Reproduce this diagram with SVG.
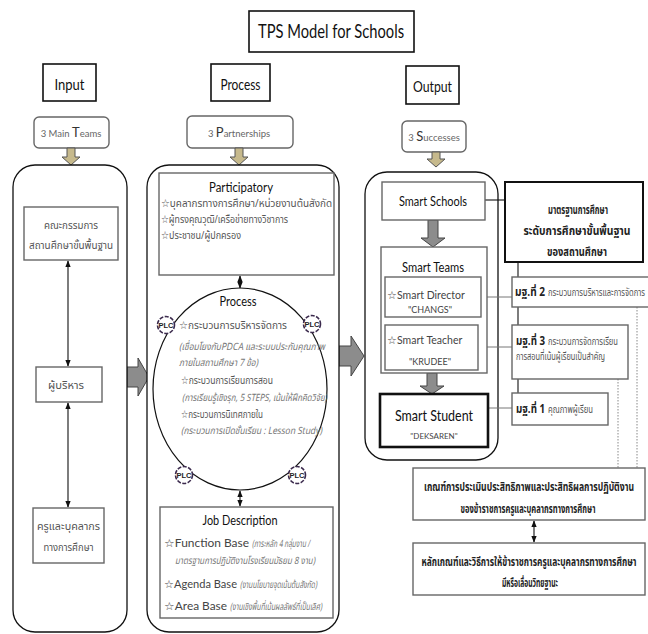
<svg xmlns="http://www.w3.org/2000/svg" width="648" height="634" viewBox="0 0 648 634">
<style>
.hd{font-family:Lato,"Liberation Sans",sans-serif;fill:#111;text-anchor:middle}
.th{font-family:"Noto Sans Thai","Noto Sans","DejaVu Sans",sans-serif;fill:#555;font-size:11px}
.thb{font-family:"Noto Sans Thai","Noto Sans","DejaVu Sans",sans-serif;fill:#222;font-size:11.5px;font-weight:bold}
.it{font-style:italic;fill:#777;font-size:10px}
.lat{font-family:Lato,"Liberation Sans",sans-serif;fill:#444}
.box{fill:#fff;stroke:#111;stroke-width:1.6}
.gbox{fill:#fff;stroke:#666;stroke-width:1.4}
.big{fill:#fff;stroke:#111;stroke-width:1.3}
.ln{stroke:#111;stroke-width:1.1;fill:none}
.gl{stroke:#777;stroke-width:1;fill:none}
.dot{stroke:#888;stroke-width:1;stroke-dasharray:1.5 1.5;fill:none}
.khaki{fill:#c6b98c;stroke:#555;stroke-width:1}
.garrow{fill:#8c8c8c;stroke:#444;stroke-width:1}
.plc{fill:#fff;stroke:#3b2a4d;stroke-width:1.6;stroke-dasharray:4 1.5}
.plct{font-family:"Liberation Sans Narrow","Liberation Sans",sans-serif;font-size:7.5px;font-weight:bold;fill:#222;text-anchor:middle}
</style>
<defs>
<marker id="ah" viewBox="0 0 10 10" refX="9" refY="5" markerWidth="6" markerHeight="6" orient="auto-start-reverse">
<path d="M0,1 L10,5 L0,9 z" fill="#111"/>
</marker>
</defs>

<g id="title">
<rect class="box" x="249" y="11" width="165" height="41"/>
<text class="hd" x="331" y="38" font-size="19" textLength="146" lengthAdjust="spacingAndGlyphs">TPS Model for Schools</text>
</g>

<g id="input-head">
<rect class="box" x="43" y="64" width="53" height="37"/>
<text class="hd" x="69.5" y="90" font-size="15" textLength="30" lengthAdjust="spacingAndGlyphs">Input</text>
<rect class="gbox" x="34" y="117" width="75" height="31" rx="5"/>
<text class="hd" x="71" y="137" font-size="9.5"><tspan fill="#666">3 Main </tspan><tspan font-size="13" fill="#333">T</tspan><tspan fill="#666">eams</tspan></text>
</g>
<g id="process-head">
<rect class="box" x="211" y="64" width="59" height="37"/>
<text class="hd" x="240.5" y="90" font-size="15" textLength="40" lengthAdjust="spacingAndGlyphs">Process</text>
<rect class="gbox" x="187" y="116" width="106" height="32" rx="5"/>
<text class="hd" x="239" y="137" font-size="9.5"><tspan fill="#666">3 </tspan><tspan font-size="13" fill="#333">P</tspan><tspan fill="#666">artnerships</tspan></text>
</g>
<g id="output-head">
<rect class="box" x="406" y="66" width="53" height="38"/>
<text class="hd" x="432.5" y="92" font-size="15" textLength="39" lengthAdjust="spacingAndGlyphs">Output</text>
<rect class="gbox" x="402" y="121" width="64" height="31" rx="5"/>
<text class="hd" x="434" y="141" font-size="9.5"><tspan fill="#666">3 </tspan><tspan font-size="13" fill="#333">S</tspan><tspan fill="#666">uccesses</tspan></text>
</g>

<g id="connectors">
<path class="khaki" d="M67,148 H75 V157 H80 L71,165 L62,157 H67 Z"/>
<path class="khaki" d="M235,148 H243 V157 H248 L239,165 L230,157 H235 Z"/>
<path class="khaki" d="M432,152 H440 V159 H445 L436,167 L427,159 H432 Z"/>
<path class="garrow" d="M127,367 H138 V358 L149,377 L138,396 V387 H127 Z"/>
<path class="garrow" d="M339,346 H351 V336 L364,356 L351,376 V366 H339 Z"/>
</g>

<g id="input-group">
<rect class="big" x="13" y="165" width="114" height="467" rx="22"/>
</g>
<g id="process-group">
<rect class="big" x="147" y="165" width="192" height="467" rx="22"/>
</g>
<g id="output-group">
<rect class="big" x="365" y="172" width="133" height="288" rx="22"/>
</g>

<g id="input-links">
<line class="ln" x1="68" y1="261" x2="68" y2="366" marker-start="url(#ah)" marker-end="url(#ah)"/>
<line class="ln" x1="68" y1="403" x2="68" y2="507" marker-start="url(#ah)" marker-end="url(#ah)"/>
</g>
<g id="n-committee">
<rect class="gbox" x="24" y="207" width="94" height="53"/>
<text class="th" x="71" y="229" text-anchor="middle" textLength="54" lengthAdjust="spacingAndGlyphs">คณะกรรมการ</text>
<text class="th" x="71" y="249" text-anchor="middle" textLength="84" lengthAdjust="spacingAndGlyphs">สถานศึกษาขั้นพื้นฐาน</text>
</g>
<g id="n-admin">
<rect class="gbox" x="36" y="367" width="66" height="35"/>
<text class="th" x="66" y="389" text-anchor="middle" textLength="36" lengthAdjust="spacingAndGlyphs">ผู้บริหาร</text>
</g>
<g id="n-teachers">
<rect class="gbox" x="33" y="508" width="71" height="55"/>
<text class="th" x="68.5" y="530" text-anchor="middle" textLength="63" lengthAdjust="spacingAndGlyphs">ครูและบุคลากร</text>
<text class="th" x="68.5" y="551" text-anchor="middle" textLength="50" lengthAdjust="spacingAndGlyphs">ทางการศึกษา</text>
</g>

<g id="process-links">
<line class="ln" x1="240" y1="276" x2="240" y2="288" marker-start="url(#ah)" marker-end="url(#ah)"/>
<line class="ln" x1="240" y1="491" x2="240" y2="506" marker-start="url(#ah)" marker-end="url(#ah)"/>
</g>
<g id="n-participatory">
<rect class="gbox" x="159" y="173" width="175" height="102"/>
<text class="hd" x="241" y="192" font-size="14" fill="#222" textLength="64" lengthAdjust="spacingAndGlyphs">Participatory</text>
<text class="th" x="161" y="207" textLength="171" lengthAdjust="spacingAndGlyphs">☆บุคลากรทางการศึกษา/หน่วยงานต้นสังกัด</text>
<text class="th" x="161" y="223" textLength="127" lengthAdjust="spacingAndGlyphs">☆ผู้ทรงคุณวุฒิ/เครือข่ายทางวิชาการ</text>
<text class="th" x="161" y="239" textLength="80" lengthAdjust="spacingAndGlyphs">☆ประชาชน/ผู้ปกครอง</text>
</g>
<g id="n-process-circle">
<ellipse cx="240" cy="389" rx="87" ry="101" fill="none" stroke="#111" stroke-width="1.2"/>
<text class="hd" x="238" y="306" font-size="14" fill="#222" textLength="37" lengthAdjust="spacingAndGlyphs">Process</text>
<text class="th" x="179" y="329" font-size="11.5" fill="#444" textLength="108" lengthAdjust="spacingAndGlyphs">☆กระบวนการบริหารจัดการ</text>
<text class="th it" x="179" y="350" textLength="146" lengthAdjust="spacingAndGlyphs">(เชื่อมโยงกับPDCA และระบบประกันคุณภาพ</text>
<text class="th it" x="179" y="366" textLength="79" lengthAdjust="spacingAndGlyphs">ภายในสถานศึกษา 7 ข้อ)</text>
<text class="th" x="181" y="384" font-size="11.5" fill="#444" textLength="92" lengthAdjust="spacingAndGlyphs">☆กระบวนการเรียนการสอน</text>
<text class="th it" x="182" y="401" textLength="145" lengthAdjust="spacingAndGlyphs">(การเรียนรู้เชิงรุก, 5 STEPS, เน้นให้ฝึกคิดวิจัย)</text>
<text class="th" x="181" y="418" font-size="11.5" fill="#444" textLength="82" lengthAdjust="spacingAndGlyphs">☆กระบวนการนิเทศภายใน</text>
<text class="th it" x="181" y="434" textLength="141" lengthAdjust="spacingAndGlyphs">(กระบวนการเปิดชั้นเรียน : Lesson Study)</text>
<circle class="plc" cx="166" cy="325" r="8.5"/><text class="plct" x="166" y="328">PLC</text>
<circle class="plc" cx="312" cy="324" r="8.5"/><text class="plct" x="312" y="327">PLC</text>
<circle class="plc" cx="184" cy="475" r="8.5"/><text class="plct" x="184" y="478">PLC</text>
<circle class="plc" cx="297" cy="475" r="8.5"/><text class="plct" x="297" y="478">PLC</text>
</g>
<g id="n-job">
<rect class="gbox" x="160" y="507" width="173" height="111"/>
<text class="hd" x="240" y="525" font-size="14" fill="#222" textLength="75" lengthAdjust="spacingAndGlyphs">Job Description</text>
<text class="lat" x="164" y="547" font-size="11" textLength="85" lengthAdjust="spacingAndGlyphs">☆Function Base</text>
<text class="th it" x="252" y="547" textLength="58" lengthAdjust="spacingAndGlyphs">(ภาระหลัก 4 กลุ่มงาน /</text>
<text class="th it" x="175" y="564" textLength="140" lengthAdjust="spacingAndGlyphs">มาตรฐานการปฏิบัติงานโรงเรียนมัธยม 8 งาน)</text>
<text class="lat" x="164" y="588" font-size="11" textLength="73" lengthAdjust="spacingAndGlyphs">☆Agenda Base</text>
<text class="th it" x="240" y="588" textLength="77" lengthAdjust="spacingAndGlyphs">(งานนโยบายจุดเน้นต้นสังกัด)</text>
<text class="lat" x="164" y="610" font-size="11" textLength="63" lengthAdjust="spacingAndGlyphs">☆Area Base</text>
<text class="th it" x="230" y="610" textLength="92" lengthAdjust="spacingAndGlyphs">(งานเชิงพื้นที่เน้นผลลัพธ์ที่เป็นเลิศ)</text>
</g>

<g id="output-links">
<path class="garrow" d="M428,220 H438 V238 H445 L433,247 L421,238 H428 Z"/>
<path class="garrow" d="M427,373 H437 V386 H444 L432,394 L420,386 H427 Z"/>
<line class="ln" x1="485" y1="200" x2="505" y2="200"/>
<line class="ln" x1="518" y1="262" x2="518" y2="393"/>
<line class="gl" x1="481" y1="297" x2="512" y2="297"/>
<line class="gl" x1="478" y1="347" x2="512" y2="347"/>
<line class="gl" x1="488" y1="408" x2="512" y2="408"/>
<line class="dot" x1="618" y1="379" x2="618" y2="468"/>
<line class="dot" x1="637" y1="307" x2="637" y2="468"/>
<line class="ln" x1="534" y1="521" x2="534" y2="542" marker-start="url(#ah)" marker-end="url(#ah)"/>
</g>
<g id="n-smart-schools">
<rect class="gbox" x="382" y="182" width="103" height="38"/>
<text class="hd" x="433" y="206" font-size="14" fill="#222" textLength="68" lengthAdjust="spacingAndGlyphs">Smart Schools</text>
</g>
<g id="n-smart-teams">
<rect class="gbox" x="381" y="247" width="106" height="126"/>
<text class="hd" x="433" y="272" font-size="14" fill="#222" textLength="62" lengthAdjust="spacingAndGlyphs">Smart Teams</text>
</g>
<g id="n-smart-director">
<rect class="gbox" x="385" y="277" width="96" height="40"/>
<text class="lat" x="387" y="299" font-size="10.5">☆Smart Director</text>
<text class="lat" x="430" y="313" font-size="9" text-anchor="middle">"CHANGS"</text>
</g>
<g id="n-smart-teacher">
<rect class="gbox" x="385" y="325" width="93" height="45"/>
<text class="lat" x="387" y="344" font-size="10.5">☆Smart Teacher</text>
<text class="lat" x="430" y="365" font-size="9" text-anchor="middle">"KRUDEE"</text>
</g>
<g id="n-smart-student">
<rect x="380" y="394" width="108" height="53" fill="#fff" stroke="#111" stroke-width="2.6"/>
<text class="hd" x="434" y="421" font-size="15" fill="#222" textLength="78" lengthAdjust="spacingAndGlyphs">Smart Student</text>
<text class="lat" x="434" y="439" font-size="8" text-anchor="middle">"DEKSAREN"</text>
</g>
<g id="n-standards">
<rect x="505" y="182" width="138" height="80" fill="#fff" stroke="#111" stroke-width="2"/>
<text class="thb" x="578" y="214" text-anchor="middle" textLength="60" lengthAdjust="spacingAndGlyphs">มาตรฐานการศึกษา</text>
<text class="thb" x="577" y="235" text-anchor="middle" textLength="107" lengthAdjust="spacingAndGlyphs">ระดับการศึกษาขั้นพื้นฐาน</text>
<text class="thb" x="577" y="256" text-anchor="middle" textLength="60" lengthAdjust="spacingAndGlyphs">ของสถานศึกษา</text>
</g>
<g id="n-std2">
<rect class="gbox" x="512" y="277" width="140" height="30"/>
<text class="thb" x="515" y="296" font-size="11" textLength="30" lengthAdjust="spacingAndGlyphs">มฐ.ที่ 2</text>
<text class="th" x="548" y="296" font-size="9.5" textLength="97" lengthAdjust="spacingAndGlyphs">กระบวนการบริหารและการจัดการ</text>
</g>
<g id="n-std3">
<rect class="gbox" x="512" y="325" width="116" height="54"/>
<text class="thb" x="516" y="345" font-size="11" textLength="29" lengthAdjust="spacingAndGlyphs">มฐ.ที่ 3</text>
<text class="th" x="548" y="345" font-size="9.5" textLength="70" lengthAdjust="spacingAndGlyphs">กระบวนการจัดการเรียน</text>
<text class="th" x="516" y="360" font-size="9.5" textLength="89" lengthAdjust="spacingAndGlyphs">การสอนที่เน้นผู้เรียนเป็นสำคัญ</text>
</g>
<g id="n-std1">
<rect class="gbox" x="512" y="393" width="96" height="32"/>
<text class="thb" x="516" y="413" font-size="11" textLength="29" lengthAdjust="spacingAndGlyphs">มฐ.ที่ 1</text>
<text class="th" x="548" y="413" font-size="9.5" textLength="45" lengthAdjust="spacingAndGlyphs">คุณภาพผู้เรียน</text>
</g>
<g id="n-eval">
<rect class="gbox" x="413" y="468" width="232" height="52"/>
<text class="thb" x="529" y="491" text-anchor="middle" font-size="11" fill="#333" textLength="210" lengthAdjust="spacingAndGlyphs">เกณฑ์การประเมินประสิทธิภาพและประสิทธิผลการปฏิบัติงาน</text>
<text class="thb" x="528" y="513" text-anchor="middle" font-size="11" fill="#333" textLength="135" lengthAdjust="spacingAndGlyphs">ของข้าราชการครูและบุคลากรทางการศึกษา</text>
</g>
<g id="n-criteria">
<rect class="gbox" x="413" y="543" width="232" height="52"/>
<text class="thb" x="529" y="566" text-anchor="middle" font-size="11" fill="#333" textLength="215" lengthAdjust="spacingAndGlyphs">หลักเกณฑ์และวิธีการให้ข้าราชการครูและบุคลากรทางการศึกษา</text>
<text class="thb" x="530" y="587" text-anchor="middle" font-size="11" fill="#333" textLength="56" lengthAdjust="spacingAndGlyphs">มีหรือเลื่อนวิทยฐานะ</text>
</g>
</svg>
